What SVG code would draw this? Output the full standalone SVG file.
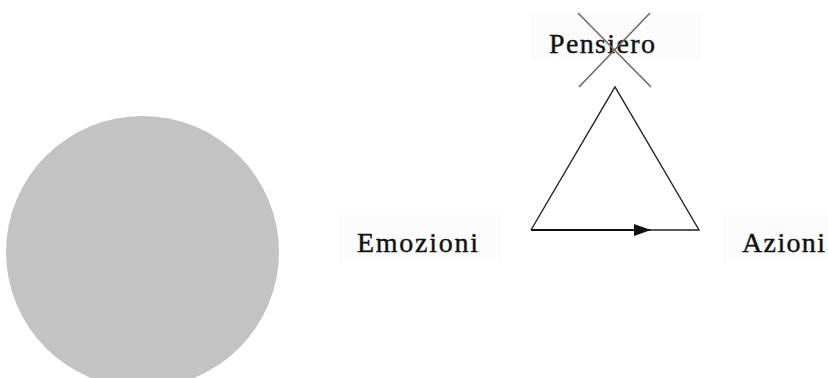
<svg xmlns="http://www.w3.org/2000/svg" width="828" height="378" viewBox="0 0 828 378">
<style>
.lbl{font-family:"Liberation Serif","DejaVu Serif",serif;font-size:28px;fill:#111;stroke:#111;stroke-width:0.4}
.bg{fill:#fcfcfc}
.tri{fill:none;stroke:#222;stroke-width:1.4}
.cross{stroke:#6a6a6a;stroke-width:1.6}
</style>
<defs>
<marker id="ah" markerWidth="17" markerHeight="12" refX="16" refY="6" orient="auto" markerUnits="userSpaceOnUse">
<path d="M0,0 L17,6 L0,12 Z" fill="#111"/>
</marker>
</defs>
<rect width="828" height="378" fill="#fff"/>
<g id="circle"><ellipse cx="142.5" cy="252" rx="136.5" ry="136" fill="#c3c3c3"/></g>
<g id="node-pensiero">
<rect class="bg" x="530" y="13" width="172" height="47"/>
<text class="lbl" x="549" y="53" textLength="106" lengthAdjust="spacing">Pensiero</text>
</g>
<g id="node-emozioni">
<rect class="bg" x="338" y="210" width="165" height="53"/>
<text class="lbl" x="357" y="252" textLength="121" lengthAdjust="spacing">Emozioni</text>
</g>
<g id="node-azioni">
<rect class="bg" x="722" y="210" width="106" height="53"/>
<text class="lbl" x="742" y="252" textLength="83" lengthAdjust="spacing">Azioni</text>
</g>
<g id="connectors">
<polyline class="tri" points="531,230 615,87 699,230 648,230"/>
<line x1="531" y1="230" x2="650" y2="230" stroke="#111" stroke-width="2" marker-end="url(#ah)"/>
<line class="cross" x1="578" y1="13" x2="651" y2="87"/>
<line class="cross" x1="650" y1="13" x2="579" y2="87"/>
</g>
</svg>
